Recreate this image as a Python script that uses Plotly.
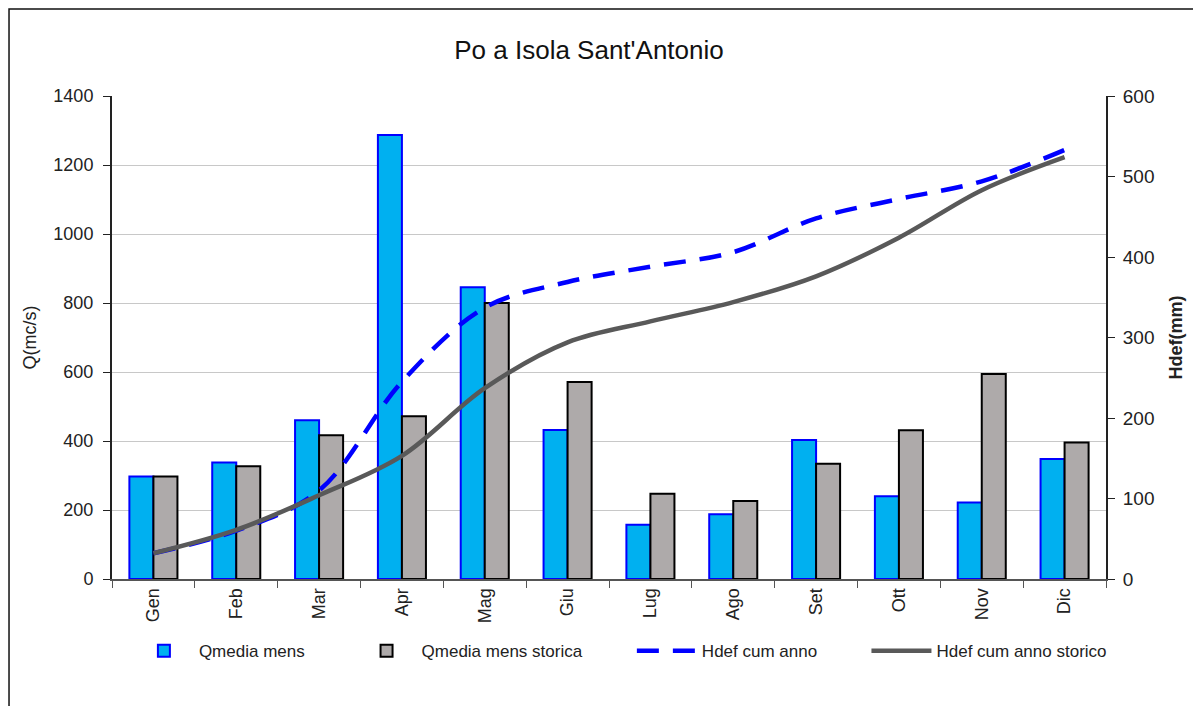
import plotly.graph_objects as go

mesi = ["Gen", "Feb", "Mar", "Apr", "Mag", "Giu", "Lug", "Ago", "Set", "Ott", "Nov", "Dic"]
q_media = [297, 338, 460, 1287, 846, 432, 157, 188, 403, 240, 222, 348]
q_storica = [297, 327, 417, 472, 800, 571, 247, 226, 334, 431, 594, 396]
hdef_anno = [32, 60, 110, 245, 337, 369, 388, 406, 448, 472, 494, 533]
hdef_storico = [32, 61, 104, 153, 237, 294, 320, 344, 376, 424, 483, 524]

FONT = "Liberation Sans, Arial, sans-serif"

fig = go.Figure()
fig.add_trace(go.Bar(x=mesi, y=q_media, name="Qmedia mens", legend="legend",
                     marker=dict(color="#00B0F0", line=dict(color="#0000FF", width=2))))
fig.add_trace(go.Bar(x=mesi, y=q_storica, name="Qmedia mens storica", legend="legend2",
                     marker=dict(color="#AEAAAA", line=dict(color="#000000", width=2))))
fig.add_trace(go.Scatter(x=mesi, y=hdef_anno, name="Hdef cum anno", yaxis="y2", legend="legend3",
                         mode="lines", line=dict(color="#0000FF", width=4.5, dash="22px,14px", shape="spline")))
fig.add_trace(go.Scatter(x=mesi, y=hdef_storico, name="Hdef cum anno storico", yaxis="y2", legend="legend4",
                         mode="lines", line=dict(color="#595959", width=4.5, shape="spline")))

# one legend per entry so spacing can follow the original
leg = dict(orientation="h", y=-0.112, yanchor="top", font=dict(size=17, color="#222"),
           itemwidth=60, bgcolor="rgba(0,0,0,0)")
legx = [0.017, 0.241, 0.523, 0.759]

# page body has an 8px margin, so margins are trimmed by 8
fig.update_layout(
    width=1193, height=698,
    margin=dict(l=104, r=95, t=88, b=127),
    paper_bgcolor="white", plot_bgcolor="white",
    font=dict(family=FONT, size=18, color="#222"),
    title=dict(text="Po a Isola Sant'Antonio", x=0.487, xanchor="center", y=0.94, yanchor="middle",
               font=dict(size=26, color="#111")),
    barmode="group", bargap=0.42, bargroupgap=0,
    showlegend=True,
    legend=dict(leg, x=legx[0]),
    legend2=dict(leg, x=legx[1]),
    legend3=dict(leg, x=legx[2]),
    legend4=dict(leg, x=legx[3]),
    xaxis=dict(type="category", tickangle=-90, showline=True, linecolor="#555", linewidth=2,
               ticks="outside", tickson="boundaries", ticklen=7, tickcolor="#555",
               showgrid=False, tickfont=dict(size=18), automargin=False),
    yaxis=dict(range=[0, 1400], dtick=200, showline=True, linecolor="#222", linewidth=2,
               ticks="outside", ticklen=7, tickcolor="#222", gridcolor="#C8C8C8", gridwidth=1,
               tickfont=dict(size=18), automargin=False, ticklabelstandoff=6,
               title=dict(text="Q(mc/s)", font=dict(size=18), standoff=12), zeroline=False),
    yaxis2=dict(range=[0, 600], dtick=100, overlaying="y", side="right", showline=True,
                linecolor="#222", linewidth=2, ticks="outside", ticklen=7, tickcolor="#222",
                showgrid=False, zeroline=False, tickfont=dict(size=19), automargin=False,
                ticklabelstandoff=4,
                title=dict(text="<b>Hdef(mm)</b>", font=dict(size=18), standoff=16)),
    shapes=[dict(type="rect", xref="paper", yref="paper", x0=-0.1036, x1=1.2, y0=-0.5, y1=1.18,
                 line=dict(color="#111", width=1.5), fillcolor="rgba(0,0,0,0)", layer="below")],
)

fig.write_html("out.html")
